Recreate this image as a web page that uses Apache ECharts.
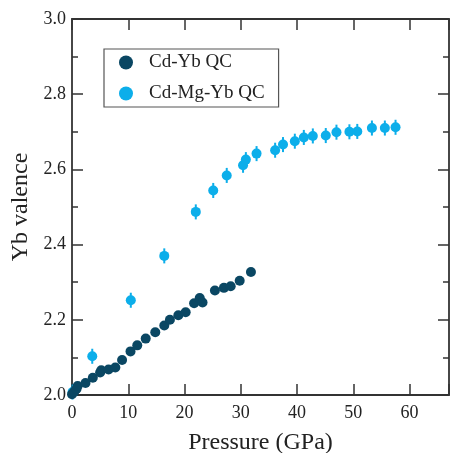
<!DOCTYPE html>
<html>
<head>
<meta charset="utf-8">
<script src="https://cdn.jsdelivr.net/npm/echarts@6/dist/echarts.min.js"></script>
<style>
  html, body { margin: 0; padding: 0; background: #fff; }
  #chart { width: 451px; height: 453px; }
</style>
</head>
<body>
<div id="chart"></div>
<script>
// Cd-Yb QC (dark)
var cdYbP = [0, 0.4, 0.8, 1.0, 2.4, 3.7, 5.0, 5.2, 6.5, 7.7, 8.9, 10.4, 11.6, 13.1, 14.8, 16.4, 17.4, 18.9, 20.2, 21.7, 22.7, 23.2, 25.4, 27.0, 28.2, 29.8, 31.8];
var cdYbV = [2.002, 2.009, 2.016, 2.024, 2.032, 2.046, 2.060, 2.066, 2.068, 2.073, 2.093, 2.116, 2.132, 2.150, 2.167, 2.185, 2.200, 2.212, 2.220, 2.244, 2.258, 2.246, 2.278, 2.285, 2.289, 2.304, 2.327];
var cdYbErr = 0.007;

// Cd-Mg-Yb QC (light)
var cdMgYbP = [0.1, 3.6, 10.45, 16.4, 22.0, 25.1, 27.5, 30.4, 30.9, 32.8, 36.1, 37.5, 39.6, 41.2, 42.8, 45.1, 47.0, 49.3, 50.7, 53.3, 55.6, 57.5];
var cdMgYbV = [2.008, 2.103, 2.252, 2.370, 2.487, 2.544, 2.584, 2.611, 2.626, 2.642, 2.651, 2.666, 2.675, 2.685, 2.689, 2.690, 2.699, 2.700, 2.701, 2.710, 2.710, 2.712];
var cdMgYbErr = 0.02;

var xTicks = [0, 10, 20, 30, 40, 50, 60];
var yTicks = [2.0, 2.2, 2.4, 2.6, 2.8, 3.0];

var darkColor = '#0a4763';
var lightColor = '#0caeea';
var serif = 'Liberation Serif';

function pairs(xs, ys) {
    var out = [];
    for (var i = 0; i < xs.length; i++) out.push([xs[i], ys[i]]);
    return out;
}

function errorSeries(xs, ys, err, color, z) {
    var data = [];
    for (var i = 0; i < xs.length; i++) data.push([xs[i], ys[i] - err, ys[i] + err]);
    return {
        type: 'custom',
        z: z,
        silent: true,
        renderItem: function (params, api) {
            var lo = api.coord([api.value(0), api.value(1)]);
            var hi = api.coord([api.value(0), api.value(2)]);
            return {
                type: 'line',
                shape: { x1: lo[0], y1: lo[1], x2: hi[0], y2: hi[1] },
                style: { stroke: color, lineWidth: 2 }
            };
        },
        encode: { x: 0, y: [1, 2] },
        data: data
    };
}

var chart = echarts.init(document.getElementById('chart'));

var axisLineStyle = { color: '#333', width: 1.8 };
var tickStyle = { color: '#333', width: 1.5 };

var option = {
    animation: false,
    grid: { left: 72, right: 2, top: 19, bottom: 58, outerBoundsMode: 'none', containLabel: false },
    legend: {
        left: 104,
        top: 49,
        orient: 'vertical',
        icon: 'circle',
        itemWidth: 36,
        itemHeight: 14,
        itemGap: 12,
        padding: [4, 14, 4, 15],
        borderColor: '#555',
        borderWidth: 1.2,
        textStyle: { fontFamily: serif, fontSize: 19, color: '#222' },
        data: ['Cd-Yb QC', 'Cd-Mg-Yb QC']
    },
    xAxis: [{
        type: 'value',
        min: 0, max: 67, interval: 10,
        name: 'Pressure (GPa)',
        nameLocation: 'middle',
        nameGap: 36,
        nameTextStyle: { fontFamily: serif, fontSize: 24, color: '#222' },
        axisLine: { show: true, onZero: false, lineStyle: axisLineStyle },
        axisTick: { show: true, inside: true, length: 11, lineStyle: tickStyle },
        axisLabel: {
            fontFamily: serif, fontSize: 18, color: '#222', margin: 9,
            formatter: function (v) { return xTicks.indexOf(v) >= 0 ? String(v) : ''; }
        },
        splitLine: { show: false }
    }, {
        type: 'value',
        position: 'top',
        min: 0, max: 67, interval: 10,
        axisLine: { show: true, onZero: false, lineStyle: axisLineStyle },
        axisTick: { show: true, inside: true, length: 11, lineStyle: tickStyle },
        axisLabel: { show: false },
        splitLine: { show: false }
    }],
    yAxis: [{
        type: 'value',
        min: 2.0, max: 3.0, interval: 0.2,
        name: 'Yb valence',
        nameLocation: 'middle',
        nameGap: 38,
        nameTextStyle: { fontFamily: serif, fontSize: 24, color: '#222' },
        axisLine: { show: true, onZero: false, lineStyle: axisLineStyle },
        axisTick: { show: true, inside: true, length: 11, lineStyle: tickStyle },
        minorTick: { show: true, splitNumber: 2, length: 6, lineStyle: tickStyle },
        axisLabel: {
            fontFamily: serif, fontSize: 18, color: '#222', margin: 6,
            formatter: function (v) { return yTicks.indexOf(Math.round(v * 10) / 10) >= 0 ? v.toFixed(1) : ''; }
        },
        splitLine: { show: false }
    }, {
        type: 'value',
        position: 'right',
        min: 2.0, max: 3.0, interval: 0.2,
        axisLine: { show: true, onZero: false, lineStyle: axisLineStyle },
        axisTick: { show: true, inside: true, length: 11, lineStyle: tickStyle },
        minorTick: { show: true, splitNumber: 2, length: 6, lineStyle: tickStyle },
        axisLabel: { show: false },
        splitLine: { show: false }
    }],
    series: [
        errorSeries(cdMgYbP, cdMgYbV, cdMgYbErr, lightColor, 2),
        {
            name: 'Cd-Mg-Yb QC',
            type: 'scatter',
            symbol: 'circle',
            symbolSize: 10,
            z: 3,
            itemStyle: { color: lightColor, opacity: 1 },
            data: pairs(cdMgYbP, cdMgYbV)
        },
        errorSeries(cdYbP, cdYbV, cdYbErr, darkColor, 4),
        {
            name: 'Cd-Yb QC',
            type: 'scatter',
            symbol: 'circle',
            symbolSize: 10,
            z: 5,
            itemStyle: { color: darkColor, opacity: 1 },
            data: pairs(cdYbP, cdYbV)
        }
    ]
};

chart.setOption(option);
</script>
</body>
</html>
